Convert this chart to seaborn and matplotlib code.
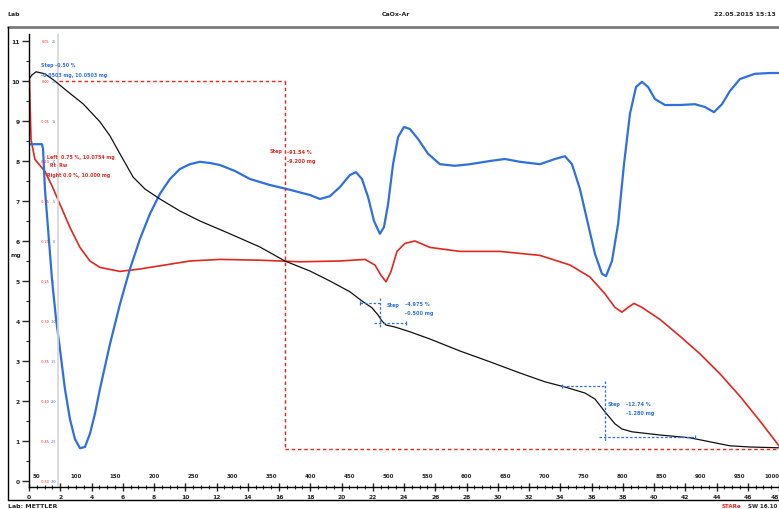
import matplotlib
matplotlib.use("Agg")
import matplotlib.pyplot as plt
from matplotlib.lines import Line2D
from matplotlib.ticker import MultipleLocator
from matplotlib.transforms import blended_transform_factory
import seaborn as sns

# ---- measured curves (time in min) ----
tga_time = [0.00, 0.19, 0.45, 1.02, 1.66, 2.43, 3.46, 4.54, 5.18, 5.82, 6.66, 7.42, 8.38,
            9.66, 10.94, 12.86, 14.78, 16.38, 17.98, 19.26, 20.54, 21.31, 21.95, 22.34,
            22.59, 22.85, 23.42, 24.38, 25.66, 27.58, 29.50, 31.42, 33.02, 34.30, 35.58,
            36.22, 36.86, 37.50, 37.95, 38.59, 40.38, 42.30, 43.58, 44.86, 46.14, 48.00]
tga_mass = [10.05, 10.15, 10.23, 10.18, 10.00, 9.75, 9.43, 8.98, 8.63, 8.18, 7.60, 7.30, 7.05,
            6.75, 6.50, 6.18, 5.85, 5.50, 5.25, 5.00, 4.73, 4.50, 4.33, 4.15,
            4.00, 3.90, 3.85, 3.73, 3.55, 3.25, 2.98, 2.70, 2.48, 2.35, 2.20,
            2.05, 1.73, 1.43, 1.30, 1.23, 1.15, 1.08, 0.98, 0.88, 0.85, 0.83]

dtg_time = [0.00, 0.06, 0.13, 0.38, 1.02, 1.47, 1.98, 2.62, 3.26, 3.90, 4.54, 5.82, 7.10,
            8.38, 10.30, 12.22, 14.78, 17.34, 19.90, 21.50, 22.14, 22.53, 22.85, 23.17,
            23.55, 24.06, 24.70, 25.66, 27.58, 30.14, 32.70, 34.62, 35.90, 36.86, 37.50,
            37.95, 38.34, 38.72, 39.23, 40.38, 41.66, 42.94, 44.22, 45.50, 46.78, 48.00]
dtg_value = [0.025, -0.023, -0.073, -0.098, -0.113, -0.131, -0.154, -0.183, -0.208, -0.225,
             -0.233, -0.238, -0.235, -0.231, -0.225, -0.223, -0.224, -0.226, -0.225, -0.223,
             -0.230, -0.243, -0.251, -0.238, -0.213, -0.203, -0.200, -0.208, -0.213, -0.213,
             -0.218, -0.230, -0.245, -0.266, -0.283, -0.289, -0.283, -0.278, -0.283, -0.298,
             -0.319, -0.341, -0.366, -0.394, -0.425, -0.456]

dsc_time = [0.00, 0.83, 0.90, 1.02, 1.22, 1.47, 1.73, 1.98, 2.30, 2.62, 2.94, 3.26, 3.58,
            3.90, 4.22, 4.54, 5.18, 5.82, 6.46, 7.10, 7.74, 8.38, 9.02, 9.66, 10.30, 10.94,
            11.58, 12.22, 13.18, 14.14, 15.42, 16.70, 17.98, 18.62, 19.26, 19.90, 20.54,
            20.93, 21.31, 21.70, 22.08, 22.46, 22.72, 22.98, 23.30, 23.62, 24.00, 24.38,
            24.90, 25.54, 26.30, 27.26, 28.22, 29.50, 30.46, 31.42, 32.70, 33.66, 34.30,
            34.75, 35.26, 35.78, 36.22, 36.67, 36.93, 37.31, 37.70, 38.08, 38.46, 38.85,
            39.23, 39.62, 40.06, 40.70, 41.66, 42.62, 43.26, 43.84, 44.35, 44.86, 45.50,
            46.46, 47.42, 48.00]
dsc_value = [12.1, 12.1, 11.5, 6.5, 1.5, -4.75, -9.75, -13.5, -18.5, -22.25, -24.75, -25.9,
             -25.75, -24.1, -21.6, -18.5, -12.9, -7.9, -3.5, 0.25, 3.4, 5.9, 7.75, 9.0, 9.6,
             9.9, 9.75, 9.5, 8.75, 7.75, 7.0, 6.4, 5.75, 5.25, 5.6, 6.75, 8.25, 8.6, 7.75,
             5.5, 2.5, 0.9, 1.75, 4.6, 9.6, 13.0, 14.25, 14.0, 12.75, 10.9, 9.6, 9.4, 9.6,
             10.0, 10.25, 9.9, 9.6, 10.25, 10.6, 9.6, 6.5, 2.1, -1.6, -4.1, -4.4, -2.5, 2.1,
             9.6, 15.9, 19.25, 19.9, 19.25, 17.75, 17.0, 17.0, 17.1, 16.75, 16.1, 17.1, 18.75,
             20.25, 20.9, 21.0, 21.0]

# ---- axis scales ----
time_ticks = list(range(0, 49, 2))
temp_labels = list(range(50, 1001, 50))
mass_ticks = list(range(0, 12))
dtg_ticks = [-0.50, -0.45, -0.40, -0.35, -0.30, -0.25, -0.20, -0.15, -0.10, -0.05, 0.00, 0.05]
dsc_ticks = [-30, -25, -20, -15, -10, -5, 0, 5, 10, 15, 20, 25]

# ---- evaluated steps: (t_left, t_right, t_mark, m_left, m_right, percent, mg) ----
step_main = (1.92, 48.0, 16.38, 10.00, 0.80, "-91.54 %", "-9.200 mg")
step_a = (21.2, 24.1, 22.46, 4.45, 3.95, "-4.975 %", "-0.500 mg")
step_b = (34.1, 42.6, 36.86, 2.38, 1.10, "-12.74 %", "-1.280 mg")

BLACK = "#111111"
RED = "#e3261f"
BLUE = "#2f6fe0"

sns.set_style("white")
plt.rcParams["font.family"] = ["DejaVu Sans"]

W, H = 779, 510
fig = plt.figure(figsize=(W / 100, H / 100), dpi=100)


def fx(x):
    return x / W


def fy(y):
    return 1 - y / H


ax = fig.add_axes([fx(29), fy(488), fx(779) - fx(29), fy(35) - fy(488)])
ax.patch.set_alpha(0)
ax.set_xlim(0, 48)
ax.set_ylim(-0.15, 11.175)

ax_dtg = ax.twinx()
ax_dtg.set_ylim(-0.5075, 0.05875)
ax_dsc = ax.twinx()
ax_dsc.set_ylim(-30.75, 25.875)
for a in (ax_dtg, ax_dsc):
    a.set_axis_off()

sns.lineplot(x=dtg_time, y=dtg_value, ax=ax_dtg, color=RED, lw=1.2, estimator=None)
sns.lineplot(x=dsc_time, y=dsc_value, ax=ax_dsc, color=BLUE, lw=1.6, estimator=None)
sns.lineplot(x=tga_time, y=tga_mass, ax=ax, color=BLACK, lw=0.9, estimator=None)
ax.set_zorder(ax_dsc.get_zorder() + 1)

# left integration limit
ax.axvline(1.86, color="#d6d6d6", lw=1.2, zorder=0)

# main step (red dashed frame)
tl, tr, tm, ml, mr, pct, mg = step_main
dash_r = dict(color=RED, lw=1.0, linestyle=(0, (2.5, 2)))
ax.plot([tl, tm], [ml, ml], **dash_r)
ax.plot([tm, tm], [ml, mr], **dash_r)
ax.plot([tm, tr], [mr, mr], **dash_r)
fig.text(fx(270), fy(152), "Step", color=RED, fontsize=3.6, fontweight="bold", va="center")
fig.text(fx(287), fy(152), pct, color=RED, fontsize=3.6, fontweight="bold", va="center")
fig.text(fx(287), fy(161), mg, color=RED, fontsize=3.6, fontweight="bold", va="center")

# partial steps (blue dashed markers)
dash_b = dict(color=BLUE, lw=0.9, linestyle=(0, (2, 1.5)))
for (tl, tr, tm, ml, mr, pct, mg), (tx, ty) in ((step_a, (387, 305)), (step_b, (608, 405))):
    ax.plot([tl, tm], [ml, ml], **dash_b)
    ax.plot([tm, tm], [ml + 0.12, mr - 0.1], **dash_b)
    ax.plot([tm - 0.35, tr], [mr, mr], **dash_b)
    ax.plot([tl, tr], [ml, mr], linestyle="none", marker="|", ms=3, mew=0.9, color=BLUE)
    fig.text(fx(tx), fy(ty), "Step", color=BLUE, fontsize=3.6, fontweight="bold", va="center")
    fig.text(fx(tx + 18), fy(ty), pct, color=BLUE, fontsize=3.6, fontweight="bold", va="center")
    fig.text(fx(tx + 18), fy(ty + 9), mg, color=BLUE, fontsize=3.6, fontweight="bold", va="center")

# notes near the start of the run
fig.text(fx(41), fy(66), "Step -0.50 %", color=BLUE, fontsize=3.4, fontweight="bold", va="center")
fig.text(fx(41), fy(75), "-0.0503 mg, 10.0503 mg", color=BLUE, fontsize=3.4, fontweight="bold", va="center")
fig.text(fx(47), fy(157), "Left  0.75 %, 10.0754 mg", color=RED, fontsize=3.4, fontweight="bold", va="center")
fig.text(fx(50), fy(166), "Rt  Rw", color=RED, fontsize=3.4, fontweight="bold", va="center")
fig.text(fx(47), fy(175), "Right 0.0 %, 10.000 mg", color=RED, fontsize=3.4, fontweight="bold", va="center")

# axes styling
for side in ("top", "right"):
    ax.spines[side].set_visible(False)
for side in ("left", "bottom"):
    ax.spines[side].set_color("black")
    ax.spines[side].set_linewidth(1.0)

ax.set_xticks(time_ticks)
ax.xaxis.set_minor_locator(MultipleLocator(0.5))
ax.set_xticklabels([str(t) for t in time_ticks])
ax.tick_params(axis="x", which="major", direction="inout", length=6, width=1,
               labelsize=4.3, pad=2, bottom=True)
ax.tick_params(axis="x", which="minor", direction="inout", length=3, width=0.8, bottom=True)

ax.set_yticks(mass_ticks)
ax.yaxis.set_minor_locator(MultipleLocator(0.5))
ax.set_yticklabels([str(m) for m in mass_ticks])
ax.tick_params(axis="y", which="major", direction="out", length=5, width=1,
               labelsize=4.3, pad=1.5, left=True)
ax.tick_params(axis="y", which="minor", direction="out", length=2.5, width=0.8, left=True)
for lab in ax.get_xticklabels() + ax.get_yticklabels():
    lab.set_fontweight("bold")
ax.get_xticklabels()[-1].set_horizontalalignment("right")
ax.set_xlabel("")
ax.set_ylabel("")
fig.text(fx(16), fy(255), "mg", fontsize=4.3, fontweight="bold", va="center", ha="center")

# temperature scale above the time axis
tr_x = blended_transform_factory(ax.transData, fig.transFigure)
for T in temp_labels:
    ha = "right" if T == temp_labels[-1] else "center"
    ax.text((T - 40) / 20, fy(477), str(T), transform=tr_x, fontsize=4.0,
            fontweight="bold", ha=ha, va="center", clip_on=False)

# scales of the red and blue curves beside the mass axis
for m, d_val, q_val in zip(mass_ticks, dtg_ticks, dsc_ticks):
    fig.text(fx(45), fy(482 - 40 * m), f"{d_val:.2f}", color=RED, fontsize=2.4,
             ha="center", va="center")
    fig.text(fx(54), fy(482 - 40 * m), f"{q_val}", color=BLUE, fontsize=2.4,
             ha="center", va="center")

# report frame and header / footer
fig.add_artist(Line2D([fx(8), fx(779)], [fy(28), fy(28)], color="#7a7a7a", lw=2))
fig.add_artist(Line2D([fx(8), fx(8)], [fy(28), fy(501)], color="black", lw=1))
fig.add_artist(Line2D([fx(8), fx(779)], [fy(501), fy(501)], color="black", lw=1))
fig.text(fx(7), fy(14), "Lab", fontsize=4.5, fontweight="bold", va="center")
fig.text(fx(382), fy(14), "CaOx-Ar", fontsize=4.5, fontweight="bold", va="center")
fig.text(fx(776), fy(14), "22.05.2015 15:13", fontsize=4.5, fontweight="bold", va="center", ha="right")
fig.text(fx(8), fy(507), "Lab: METTLER", fontsize=4.5, fontweight="bold", va="center")
fig.text(fx(741), fy(507), "STARe", color=RED, fontsize=4.0, fontweight="bold", va="center", ha="right")
fig.text(fx(777), fy(507), "SW 16.10", fontsize=4.0, fontweight="bold", va="center", ha="right")

fig.savefig("out.png", dpi=100)
